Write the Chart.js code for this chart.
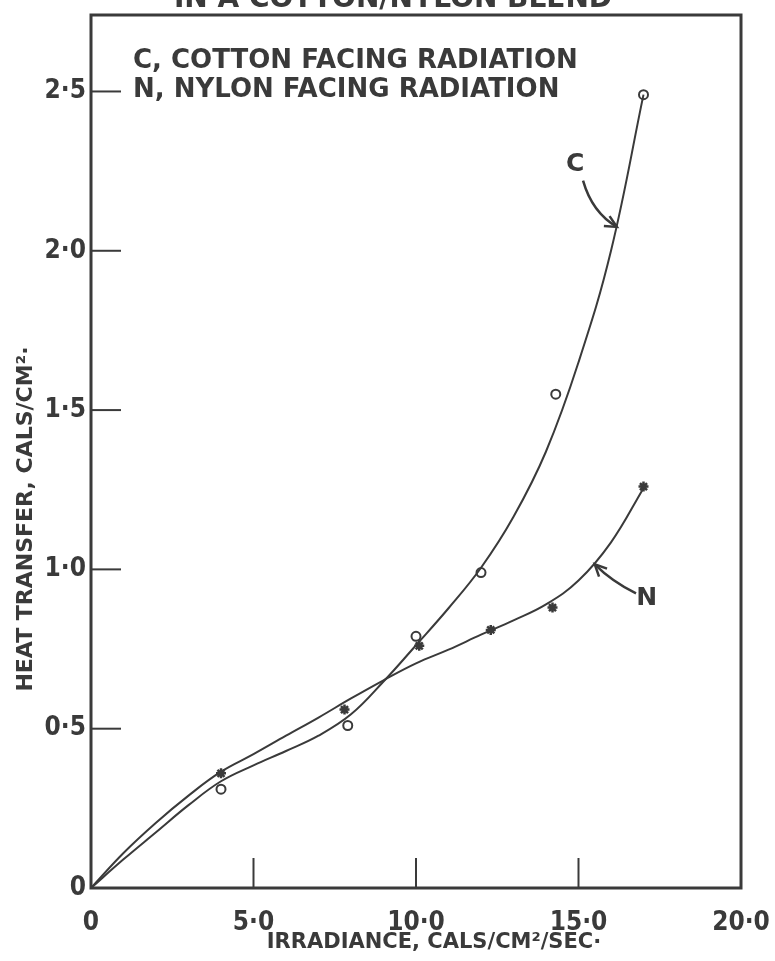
<!DOCTYPE html>
<html>
<head>
<meta charset="utf-8">
<script src="https://cdn.jsdelivr.net/npm/chart.js@4.4.1/dist/chart.umd.min.js"></script>
<style>
  html, body { margin: 0; padding: 0; background: #fff; }
  #wrap { width: 775px; height: 961px; position: relative; }
</style>
</head>
<body>
<div id="wrap"><canvas id="heat-transfer"></canvas></div>
<script>
const cottonX = [4.0, 7.9, 10.0, 12.0, 14.3, 17.0];
const cottonY = [0.31, 0.51, 0.79, 0.99, 1.55, 2.49];
const nylonX = [4.0, 7.8, 10.1, 12.3, 14.2, 17.0];
const nylonY = [0.36, 0.56, 0.76, 0.81, 0.88, 1.26];

// the hand drawn curves
const cottonCurveX = [0, 1, 2, 3, 4, 5, 6, 7, 8, 9, 10, 11, 12, 13, 14, 15, 16, 17];
const cottonCurveY = [0, 0.09, 0.175, 0.26, 0.335, 0.385, 0.43, 0.478, 0.545, 0.648, 0.762, 0.878, 1.005, 1.165, 1.37, 1.65, 2.0, 2.49];
const nylonCurveX = [0, 1, 2, 3, 4, 5, 6, 7, 8, 9, 10, 11, 12, 13, 14, 15, 16, 17];
const nylonCurveY = [0, 0.11, 0.205, 0.29, 0.365, 0.42, 0.478, 0.535, 0.595, 0.652, 0.705, 0.748, 0.795, 0.84, 0.89, 0.965, 1.085, 1.255];

const xTicks = [0, 5, 10, 15, 20];
const yTicks = [0, 0.5, 1.0, 1.5, 2.0, 2.5];

const titleText = 'IN A COTTON/NYLON BLEND';
const legendLines = ['C, COTTON FACING RADIATION', 'N, NYLON FACING RADIATION'];
const xTitle = 'IRRADIANCE, CALS/CM\u00B2/SEC\u00B7';
const yTitle = 'HEAT TRANSFER, CALS/CM\u00B2\u00B7';

const ink = '#3a3a3a';
const font = 'DejaVu Sans, sans-serif';
const narrow = '"DejaVu Sans Condensed", "DejaVu Sans", sans-serif';

const pts = (xs, ys) => xs.map((x, i) => ({ x: x, y: ys[i] }));
const fmt = v => v === 0 ? '0' : v.toFixed(1).replace('.', '\u00B7');

// labels C / N with their arrows, in data units
const marks = [
  { label: 'C', at: [14.9, 2.27], tail: [15.14, 2.22], ctrl: [15.42, 2.12], tip: [16.18, 2.075] },
  { label: 'N', at: [17.1, 0.91], tail: [16.77, 0.925], ctrl: [16.03, 0.962], tip: [15.5, 1.016] }
];

const decor = {
  id: 'decor',
  afterDraw(chart) {
    const { ctx, chartArea: a, scales } = chart;
    const px = v => scales.x.getPixelForValue(v);
    const py = v => scales.y.getPixelForValue(v);
    ctx.save();
    ctx.strokeStyle = ink;
    ctx.fillStyle = ink;

    // frame
    ctx.lineWidth = 3;
    ctx.strokeRect(a.left, a.top, a.right - a.left, a.bottom - a.top);

    // inner ticks
    ctx.lineWidth = 2;
    yTicks.slice(1).forEach(v => {
      ctx.beginPath(); ctx.moveTo(a.left, py(v)); ctx.lineTo(a.left + 30, py(v)); ctx.stroke();
    });
    xTicks.slice(1, -1).forEach(v => {
      ctx.beginPath(); ctx.moveTo(px(v), a.bottom); ctx.lineTo(px(v), a.bottom - 30); ctx.stroke();
    });

    // title, cut by the top of the page
    ctx.font = 'bold 28px ' + font;
    ctx.textAlign = 'center';
    ctx.textBaseline = 'alphabetic';
    ctx.fillText(titleText, 393, 7);

    // legend text
    ctx.font = 'bold 26px ' + font;
    ctx.textAlign = 'left';
    ctx.textBaseline = 'middle';
    ctx.fillText(legendLines[0], 133, 61);
    ctx.fillText(legendLines[1], 133, 90);

    // axis titles
    ctx.font = 'bold 21px ' + font;
    ctx.textAlign = 'center';
    ctx.fillText(xTitle, 434, 943);
    ctx.font = 'bold 22px ' + font;
    ctx.save();
    ctx.translate(26, 519);
    ctx.rotate(-Math.PI / 2);
    ctx.fillText(yTitle, 0, 0);
    ctx.restore();

    // C and N with arrows
    ctx.font = 'bold 25px ' + font;
    marks.forEach(m => {
      ctx.fillText(m.label, px(m.at[0]), py(m.at[1]));
      const t = [px(m.tail[0]), py(m.tail[1])];
      const c = [px(m.ctrl[0]), py(m.ctrl[1])];
      const e = [px(m.tip[0]), py(m.tip[1])];
      ctx.lineWidth = 2.5;
      ctx.beginPath(); ctx.moveTo(t[0], t[1]); ctx.quadraticCurveTo(c[0], c[1], e[0], e[1]); ctx.stroke();
      const ang = Math.atan2(e[1] - c[1], e[0] - c[0]);
      ctx.beginPath();
      ctx.moveTo(e[0] - 13 * Math.cos(ang - 0.45), e[1] - 13 * Math.sin(ang - 0.45));
      ctx.lineTo(e[0], e[1]);
      ctx.lineTo(e[0] - 13 * Math.cos(ang + 0.45), e[1] - 13 * Math.sin(ang + 0.45));
      ctx.stroke();
    });
    ctx.restore();
  }
};

// keep Chart.js from adding room for labels that hang over the plot edges
const noOverhang = s => { s.paddingTop = 0; s.paddingBottom = 0; s.paddingLeft = 0; s.paddingRight = 0; };

new Chart('heat-transfer', {
  type: 'scatter',
  data: {
    datasets: [{
      label: 'C curve',
      data: pts(cottonCurveX, cottonCurveY),
      showLine: true,
      borderColor: ink,
      borderWidth: 2,
      pointRadius: 0,
      tension: 0.4
    }, {
      label: 'N curve',
      data: pts(nylonCurveX, nylonCurveY),
      showLine: true,
      borderColor: ink,
      borderWidth: 2,
      pointRadius: 0,
      tension: 0.4
    }, {
      label: 'Cotton facing radiation',
      data: pts(cottonX, cottonY),
      pointStyle: 'circle',
      pointRadius: 4.5,
      borderWidth: 2,
      borderColor: ink,
      backgroundColor: '#fff'
    }, {
      label: 'Nylon facing radiation',
      data: pts(nylonX, nylonY),
      pointStyle: 'star',
      pointRadius: 5,
      borderWidth: 2.5,
      borderColor: ink,
      backgroundColor: ink
    }]
  },
  options: {
    responsive: true,
    maintainAspectRatio: false,
    animation: false,
    layout: { padding: { left: 0, right: 34, top: 15, bottom: 0 } },
    plugins: {
      legend: { display: false },
      tooltip: { enabled: false }
    },
    scales: {
      x: {
        type: 'linear',
        min: 0,
        max: 20,
        afterBuildTicks: s => { s.ticks = xTicks.map(v => ({ value: v })); },
        afterFit: s => { s.height = 73; noOverhang(s); },
        grid: { display: false, drawTicks: false },
        border: { display: false },
        ticks: {
          callback: v => fmt(v),
          color: ink,
          padding: 20,
          maxRotation: 0,
          font: { family: narrow, size: 26, weight: 'bold' }
        }
      },
      y: {
        type: 'linear',
        min: 0,
        max: 2.74,
        afterBuildTicks: s => { s.ticks = yTicks.map(v => ({ value: v })); },
        afterFit: s => { s.width = 91; noOverhang(s); },
        grid: { display: false, drawTicks: false },
        border: { display: false },
        ticks: {
          callback: v => fmt(v),
          color: ink,
          padding: 5,
          font: { family: narrow, size: 26, weight: 'bold' }
        }
      }
    }
  },
  plugins: [decor]
});
</script>
</body>
</html>
